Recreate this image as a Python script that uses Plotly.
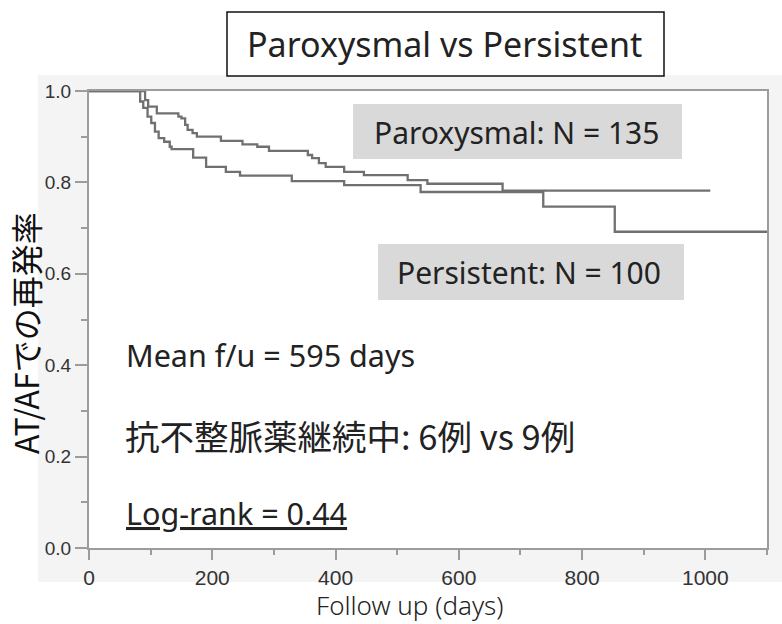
import plotly.graph_objects as go

# ---- data ----
parox_days = [0, 91, 96, 110, 145, 150, 156, 160, 168, 175, 214, 249, 273, 292,
              355, 362, 373, 384, 414, 446, 517, 549, 671, 1008]
parox_surv = [1.0, 0.980, 0.966, 0.951, 0.944, 0.940, 0.926, 0.915, 0.908, 0.900,
              0.891, 0.883, 0.878, 0.869, 0.860, 0.853, 0.842, 0.834, 0.823, 0.816,
              0.805, 0.797, 0.782, 0.782]

persist_days = [0, 83, 88, 95, 101, 107, 113, 122, 131, 134, 169, 190, 222, 245,
                329, 414, 538, 737, 853, 1100]
persist_surv = [1.0, 0.977, 0.963, 0.944, 0.930, 0.911, 0.897, 0.889, 0.878, 0.873,
                0.854, 0.834, 0.823, 0.815, 0.803, 0.794, 0.779, 0.747, 0.692, 0.692]

x_ticks = [0, 200, 400, 600, 800, 1000]
y_ticks = [0.0, 0.2, 0.4, 0.6, 0.8, 1.0]
y_tick_labels = ["0.0", "0.2", "0.4", "0.6", "0.8", "1.0"]

title_text = "Paroxysmal vs Persistent"
label_parox = "Paroxysmal: N = 135"
label_persist = "Persistent: N = 100"
text_mean = "Mean f/u = 595 days"
text_drug = "抗不整脈薬継続中: 6例 vs 9例"
text_logrank = "Log-rank = 0.44"
y_title = "AT/AFでの再発率"
x_title = "Follow up (days)"

# ---- layout geometry ----
W, H = 782, 624
L, R, T, B = 89, 15, 91, 76
PW, PH = W - L - R, H - T - B


def xp(px):
    return (px - L) / PW


def yp(py):
    return (H - B - py) / PH


LINE = "#707070"
AX = "#9c9c9c"
LAT = "Noto Sans"
JP = "Noto Sans CJK JP"

fig = go.Figure()
for d, s, name in [(parox_days, parox_surv, "Paroxysmal"),
                   (persist_days, persist_surv, "Persistent")]:
    fig.add_trace(go.Scatter(x=d, y=s, mode="lines", name=name,
                             line=dict(shape="hv", color=LINE, width=2.3),
                             showlegend=False, hoverinfo="skip"))

shapes = [
    dict(type="rect", xref="paper", yref="paper", x0=xp(38), x1=xp(782), y0=yp(582), y1=yp(75),
         fillcolor="#f3f4f3", line=dict(width=0), layer="below"),
    dict(type="rect", xref="paper", yref="paper", x0=0, x1=1, y0=0, y1=1,
         fillcolor="white", line=dict(width=0), layer="below"),
    dict(type="rect", xref="paper", yref="paper", x0=xp(353), x1=xp(682), y0=yp(159), y1=yp(104),
         fillcolor="#d9d9d9", line=dict(width=0), layer="below"),
    dict(type="rect", xref="paper", yref="paper", x0=xp(378), x1=xp(684), y0=yp(300), y1=yp(244),
         fillcolor="#d9d9d9", line=dict(width=0), layer="below"),
    dict(type="rect", xref="paper", yref="paper", x0=xp(227), x1=xp(664), y0=yp(76), y1=yp(12),
         fillcolor="white", line=dict(width=1.5, color="#111111"), layer="above"),
]

ann = [
    dict(text=title_text, x=xp(444), y=yp(44), font=dict(family=LAT, size=34, color="#222")),
    dict(text=label_parox, x=xp(516), y=yp(132), font=dict(family=LAT, size=30, color="#222")),
    dict(text=label_persist, x=xp(529), y=yp(272), font=dict(family=LAT, size=30, color="#222")),
    dict(text=text_mean, x=xp(124), y=yp(355), xanchor="left", font=dict(family=LAT, size=30.5, color="#222")),
    dict(text=text_drug, x=xp(123), y=yp(435), xanchor="left", font=dict(family=JP, size=34.5, color="#222")),
    dict(text="<u>" + text_logrank + "</u>", x=xp(124), y=yp(513), xanchor="left",
         font=dict(family=LAT, size=30.5, color="#222")),
    dict(text=y_title, x=xp(25), y=yp(333), textangle=-90, font=dict(family=JP, size=32, color="#111")),
    dict(text=x_title, x=xp(410), y=yp(605), font=dict(family=LAT, size=26, color="#222", weight=300)),
]
for a in ann:
    a.setdefault("xanchor", "center")
    a.update(xref="paper", yref="paper", yanchor="middle", showarrow=False)

fig.update_layout(
    width=W, height=H, margin=dict(l=L, r=R, t=T, b=B, autoexpand=False),
    paper_bgcolor="white", plot_bgcolor="white",
    shapes=shapes, annotations=ann,
    xaxis=dict(range=[0, 1100], tickvals=x_ticks, ticks="outside", ticklen=10, tickwidth=1.5,
               tickcolor=AX, showline=True, linecolor=AX, linewidth=2, mirror=True,
               showgrid=False, zeroline=False,
               tickfont=dict(family="Liberation Sans", size=21, color="#333"),
               minor=dict(dtick=100, ticks="outside", ticklen=5, tickwidth=1.5, tickcolor=AX, showgrid=False)),
    yaxis=dict(range=[0, 1], tickvals=y_ticks, ticktext=y_tick_labels, ticks="outside", ticklen=12,
               tickwidth=1.5, tickcolor=AX, showline=True, linecolor=AX, linewidth=2, mirror=True,
               showgrid=False, zeroline=False,
               tickfont=dict(family="Liberation Sans", size=19, color="#333"),
               minor=dict(dtick=0.1, ticks="outside", ticklen=6, tickwidth=1.5, tickcolor=AX, showgrid=False)),
)

fig.write_html("out.html")
